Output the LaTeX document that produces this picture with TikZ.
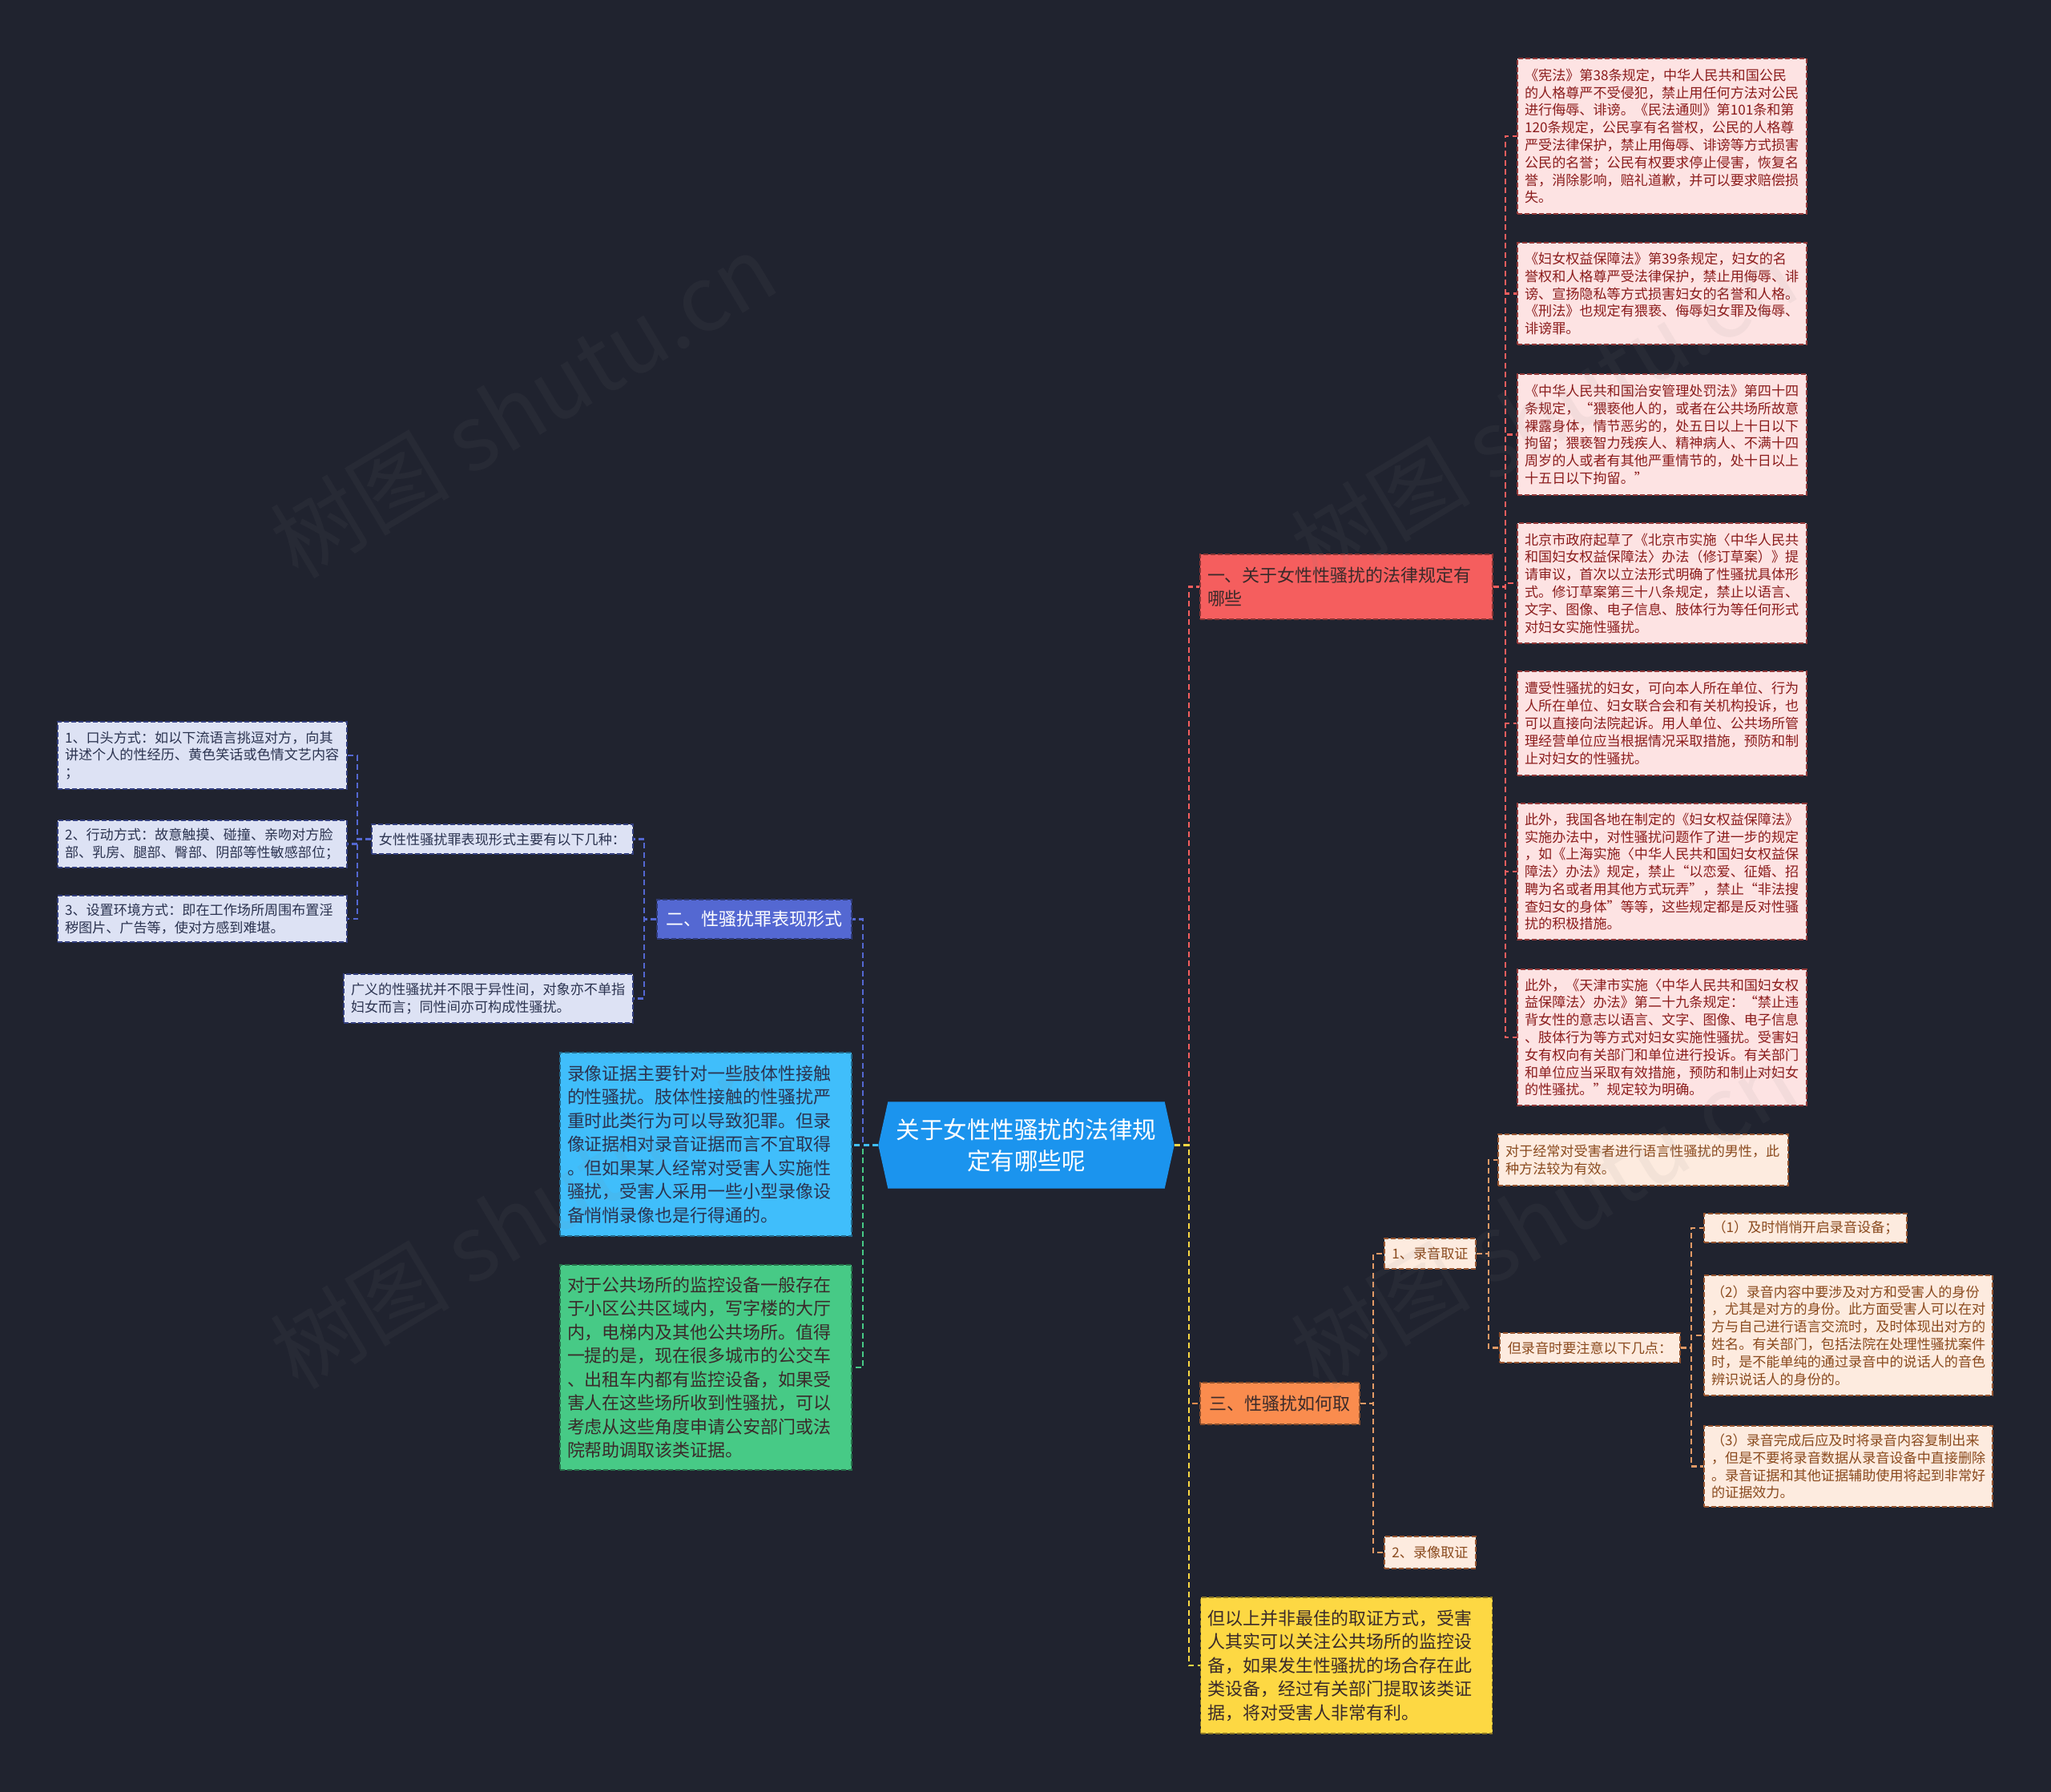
\documentclass[tikz,border=0pt]{standalone}
\usepackage{fontspec}
\setmainfont{Noto Sans CJK SC}
\usepackage{xcolor}
\usepackage{tikz}
\usetikzlibrary{backgrounds}
\definecolor{bgnavy}{HTML}{20232F}
\definecolor{rootblue}{HTML}{1B94EE}
\definecolor{lawred}{HTML}{F55E5E}
\definecolor{lawpink}{HTML}{FDE3E3}
\definecolor{lawtext}{HTML}{8B1C1C}
\definecolor{formblue}{HTML}{5468D2}
\definecolor{formlilac}{HTML}{DDE2F4}
\definecolor{formtext}{HTML}{2B3350}
\definecolor{skyblue}{HTML}{40BEFB}
\definecolor{mintgreen}{HTML}{47CA86}
\definecolor{proofamber}{HTML}{FA8C4E}
\definecolor{proofpeach}{HTML}{FDEBDF}
\definecolor{prooftext}{HTML}{8A4A1E}
\definecolor{prooflink}{HTML}{E39A66}
\definecolor{tipyellow}{HTML}{FDD843}
\definecolor{darkink}{HTML}{3A2A2A}

\newcommand{\txtroot}{\fontsize{8.4}{11.1}\selectfont}
\newcommand{\txtmid}{\fontsize{6.25}{8.4}\selectfont}
\newcommand{\txtsmall}{\fontsize{4.87}{6.2}\selectfont}

\tikzset{
  box/.style={rectangle, inner xsep=0.09cm, inner ysep=0.03cm,
    dash pattern=on 0.06cm off 0.03cm, line width=0.35pt},
  para/.style={align=left, text width=#1},
  link/.style={dash pattern=on 0.07cm off 0.045cm, line width=0.6pt},
  lawhd/.style={box, fill=lawred, draw=lawred!55!black, text=darkink, font=\txtmid},
  lawleaf/.style={box, fill=lawpink, draw=lawred!60!black, text=lawtext, font=\txtsmall, para=3.43cm},
  formhd/.style={box, fill=formblue, draw=formblue!55!black, text=white, font=\txtmid},
  formleaf/.style={box, fill=formlilac, draw=formblue!60!black, text=formtext, font=\txtsmall},
  proofhd/.style={box, fill=proofamber, draw=proofamber!55!black, text=darkink, font=\txtmid},
  proofleaf/.style={box, fill=proofpeach, draw=proofamber!60!black, text=prooftext, font=\txtsmall},
  bigleaf/.style={box, font=\txtmid, para=3.46cm},
  wmark/.style={text=gray, opacity=0.08, rotate=31, font=\fontsize{32}{32}\selectfont},
}

\begin{document}
\begin{tikzpicture}
  \useasboundingbox (0,0) rectangle (25.6,-22.37);

  % centre
  \node[text=white, font=\txtroot, align=center, inner sep=0pt,
    minimum width=3.68cm, minimum height=1.07cm] (root) at (12.81,-14.295)
    {关于女性性骚扰的法律规\\定有哪些呢};

  % branch one: legal rules
  \node[lawhd, para=3.47cm, minimum height=0.81cm] (lawhead) at (16.805,-7.325)
    {一、关于女性性骚扰的法律规定有\\哪些};
  \node[lawleaf, minimum height=1.94cm] (law1) at (20.745,-1.70)
    {《宪法》第38条规定，中华人民共和国公民\\的人格尊严不受侵犯，禁止用任何方法对公民\\进行侮辱、诽谤。《民法通则》第101条和第\\120条规定，公民享有名誉权，公民的人格尊\\严受法律保护，禁止用侮辱、诽谤等方式损害\\公民的名誉；公民有权要求停止侵害，恢复名\\誉，消除影响，赔礼道歉，并可以要求赔偿损\\失。};
  \node[lawleaf, minimum height=1.27cm] (law2) at (20.745,-3.665)
    {《妇女权益保障法》第39条规定，妇女的名\\誉权和人格尊严受法律保护，禁止用侮辱、诽\\谤、宣扬隐私等方式损害妇女的名誉和人格。\\《刑法》也规定有猥亵、侮辱妇女罪及侮辱、\\诽谤罪。};
  \node[lawleaf, minimum height=1.51cm] (law3) at (20.745,-5.425)
    {《中华人民共和国治安管理处罚法》第四十四\\条规定，“猥亵他人的，或者在公共场所故意\\裸露身体，情节恶劣的，处五日以上十日以下\\拘留；猥亵智力残疾人、精神病人、不满十四\\周岁的人或者有其他严重情节的，处十日以上\\十五日以下拘留。”};
  \node[lawleaf, minimum height=1.50cm] (law4) at (20.745,-7.28)
    {北京市政府起草了《北京市实施〈中华人民共\\和国妇女权益保障法〉办法（修订草案）》提\\请审议，首次以立法形式明确了性骚扰具体形\\式。修订草案第三十八条规定，禁止以语言、\\文字、图像、电子信息、肢体行为等任何形式\\对妇女实施性骚扰。};
  \node[lawleaf, minimum height=1.30cm] (law5) at (20.745,-9.03)
    {遭受性骚扰的妇女，可向本人所在单位、行为\\人所在单位、妇女联合会和有关机构投诉，也\\可以直接向法院起诉。用人单位、公共场所管\\理经营单位应当根据情况采取措施，预防和制\\止对妇女的性骚扰。};
  \node[lawleaf, minimum height=1.70cm] (law6) at (20.745,-10.88)
    {此外，我国各地在制定的《妇女权益保障法》\\实施办法中，对性骚扰问题作了进一步的规定\\，如《上海实施〈中华人民共和国妇女权益保\\障法〉办法》规定，禁止“以恋爱、征婚、招\\聘为名或者用其他方式玩弄”，禁止“非法搜\\查妇女的身体”等等，这些规定都是反对性骚\\扰的积极措施。};
  \node[lawleaf, minimum height=1.70cm] (law7) at (20.745,-12.95)
    {此外，《天津市实施〈中华人民共和国妇女权\\益保障法〉办法》第二十九条规定：“禁止违\\背女性的意志以语言、文字、图像、电子信息\\、肢体行为等方式对妇女实施性骚扰。受害妇\\女有权向有关部门和单位进行投诉。有关部门\\和单位应当采取有效措施，预防和制止对妇女\\的性骚扰。”规定较为明确。};

  % branch two: forms
  \node[formhd, minimum width=2.43cm, minimum height=0.49cm] (formhead) at (9.415,-11.475)
    {二、性骚扰罪表现形式};
  \node[formleaf, minimum width=3.26cm, minimum height=0.37cm] (formintro) at (6.27,-10.475)
    {女性性骚扰罪表现形式主要有以下几种：};
  \node[formleaf, para=3.43cm, minimum height=0.61cm] (formwide) at (6.095,-12.465)
    {广义的性骚扰并不限于异性间，对象亦不单指\\妇女而言；同性间亦可构成性骚扰。};
  \node[formleaf, para=3.43cm, minimum height=0.84cm] (form1) at (2.525,-9.43)
    {1、口头方式：如以下流语言挑逗对方，向其\\讲述个人的性经历、黄色笑话或色情文艺内容\\；};
  \node[formleaf, para=3.43cm, minimum height=0.59cm] (form2) at (2.525,-10.535)
    {2、行动方式：故意触摸、碰撞、亲吻对方脸\\部、乳房、腿部、臀部、阴部等性敏感部位；};
  \node[formleaf, para=3.43cm, minimum height=0.58cm] (form3) at (2.525,-11.47)
    {3、设置环境方式：即在工作场所周围布置淫\\秽图片、广告等，使对方感到难堪。};

  \node[bigleaf, fill=skyblue, draw=skyblue!55!black, text=formtext, minimum height=2.29cm] (video) at (8.81,-14.285)
    {录像证据主要针对一些肢体性接触\\的性骚扰。肢体性接触的性骚扰严\\重时此类行为可以导致犯罪。但录\\像证据相对录音证据而言不宜取得\\。但如果某人经常对受害人实施性\\骚扰，受害人采用一些小型录像设\\备悄悄录像也是行得通的。};
  \node[bigleaf, fill=mintgreen, draw=mintgreen!55!black, text=darkink, minimum height=2.56cm] (cctv) at (8.81,-17.07)
    {对于公共场所的监控设备一般存在\\于小区公共区域内，写字楼的大厅\\内，电梯内及其他公共场所。值得\\一提的是，现在很多城市的公交车\\、出租车内都有监控设备，如果受\\害人在这些场所收到性骚扰，可以\\考虑从这些角度申请公安部门或法\\院帮助调取该类证据。};

  % branch three: evidence
  \node[proofhd, minimum width=1.99cm, minimum height=0.52cm] (proofhead) at (15.975,-17.52)
    {三、性骚扰如何取};
  \node[proofleaf, minimum width=1.14cm, minimum height=0.38cm] (audio) at (17.85,-15.65)
    {1、录音取证};
  \node[proofleaf, minimum width=1.14cm, minimum height=0.40cm] (videoproof) at (17.85,-19.38)
    {2、录像取证};
  \node[proofleaf, para=3.44cm, minimum height=0.64cm] (audioeff) at (20.51,-14.48)
    {对于经常对受害者进行语言性骚扰的男性，此\\种方法较为有效。};
  \node[proofleaf, minimum width=2.25cm, minimum height=0.37cm] (audionote) at (19.845,-16.825)
    {但录音时要注意以下几点：};
  \node[proofleaf, minimum width=2.53cm, minimum height=0.36cm] (pt1) at (22.535,-15.33)
    {（1）及时悄悄开启录音设备；};
  \node[proofleaf, para=3.42cm, minimum height=1.50cm] (pt2) at (23.07,-16.67)
    {（2）录音内容中要涉及对方和受害人的身份\\，尤其是对方的身份。此方面受害人可以在对\\方与自己进行语言交流时，及时体现出对方的\\姓名。有关部门，包括法院在处理性骚扰案件\\时，是不能单纯的通过录音中的说话人的音色\\辨识说话人的身份的。};
  \node[proofleaf, para=3.42cm, minimum height=1.01cm] (pt3) at (23.07,-18.305)
    {（3）录音完成后应及时将录音内容复制出来\\，但是不要将录音数据从录音设备中直接删除\\。录音证据和其他证据辅助使用将起到非常好\\的证据效力。};

  \node[bigleaf, fill=tipyellow, draw=tipyellow!55!black, text=darkink, minimum height=1.70cm] (tip) at (16.805,-20.79)
    {但以上并非最佳的取证方式，受害\\人其实可以关注公共场所的监控设\\备，如果发生性骚扰的场合存在此\\类设备，经过有关部门提取该类证\\据，将对受害人非常有利。};

  % connectors
  \draw[link, draw=lawred] (root.east) -- ++(0.18,0) |- (lawhead.west);
  \draw[link, draw=proofamber] (root.east) -- ++(0.18,0) |- (proofhead.west);
  \draw[link, draw=tipyellow] (root.east) -- ++(0.18,0) |- (tip.west);
  \draw[link, draw=formblue] (root.west) -- ++(-0.19,0) |- (formhead.east);
  \draw[link, draw=mintgreen] (root.west) -- ++(-0.19,0) |- (cctv.east);
  \draw[link, draw=skyblue] (root.west) -- (root.west -| video.east);
  \foreach \i in {1,...,7}
    \draw[link, draw=lawred] (lawhead.east) -- ++(0.15,0) |- (law\i.west);
  \draw[link, draw=formblue] (formhead.west) -- ++(-0.15,0) |- (formintro.east);
  \draw[link, draw=formblue] (formhead.west) -- ++(-0.15,0) |- (formwide.east);
  \foreach \i in {1,2,3}
    \draw[link, draw=formblue] (formintro.west) -- ++(-0.17,0) |- (form\i.east);
  \draw[link, draw=prooflink] (proofhead.east) -- ++(0.16,0) |- (audio.west);
  \draw[link, draw=prooflink] (proofhead.east) -- ++(0.16,0) |- (videoproof.west);
  \draw[link, draw=prooflink] (audio.east) -- ++(0.15,0) |- (audioeff.west);
  \draw[link, draw=prooflink] (audio.east) -- ++(0.15,0) |- (audionote.west);
  \foreach \i in {1,2,3}
    \draw[link, draw=prooflink] (audionote.east) -- ++(0.13,0) |- (pt\i.west);

  % backdrop and centre shape
  \begin{scope}[on background layer]
    \fill[bgnavy] (0,0) rectangle (25.6,-22.37);
    \fill[rootblue] (root.west) -- ([xshift=0.12cm]root.north west)
      -- ([xshift=-0.12cm]root.north east) -- (root.east)
      -- ([xshift=-0.12cm]root.south east) -- ([xshift=0.12cm]root.south west) -- cycle;
  \end{scope}

  % watermark
  \foreach \x/\y [count=\k] in {6.53/-5.06, 19.27/-5.14, 6.53/-15.18, 19.27/-15.18}
    \node[wmark] (wm\k) at (\x,\y) {树图 shutu.cn};
\end{tikzpicture}
\end{document}
